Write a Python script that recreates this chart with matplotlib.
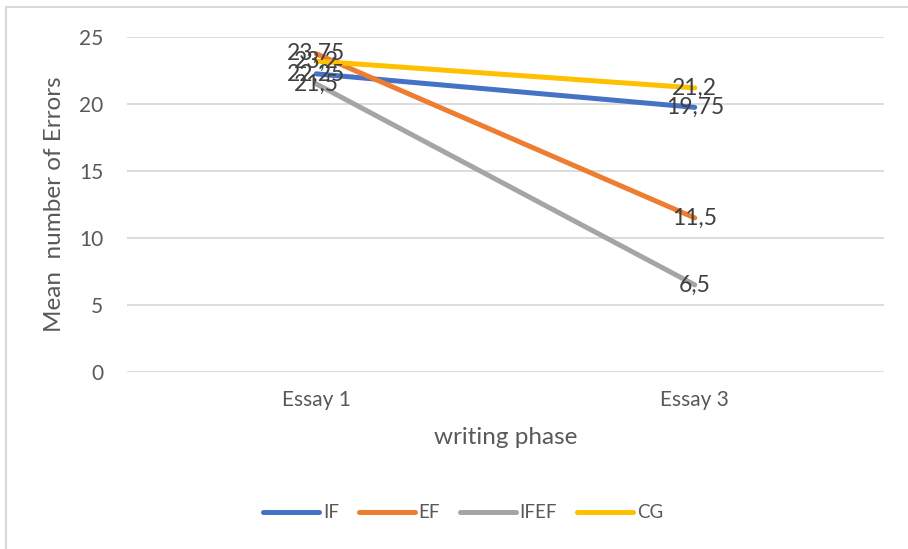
import matplotlib
matplotlib.use('Agg')
import matplotlib.pyplot as plt
from matplotlib.patches import Rectangle

# データ
phases = ['Essay 1', 'Essay 3']
if_vals = [22.25, 19.75]
ef_vals = [23.75, 11.5]
ifef_vals = [21.5, 6.5]
cg_vals = [23.2, 21.2]
series_names = ['IF', 'EF', 'IFEF', 'CG']
colors = ['#4472C4', '#ED7D31', '#A5A5A5', '#FFC000']

plt.rcParams['font.family'] = ['Lato', 'DejaVu Sans']

fig = plt.figure(figsize=(9.08, 5.49), dpi=100)
ax = fig.add_axes([127 / 908, 177 / 549, 757 / 908, 335 / 549])

x = list(range(len(phases)))
for vals, name, c in zip([if_vals, ef_vals, ifef_vals, cg_vals], series_names, colors):
    ax.plot(x, vals, color=c, lw=3.6, solid_capstyle='round', label=name)

# データラベル
for vals in [if_vals, ef_vals, ifef_vals, cg_vals]:
    for xi, v in zip(x, vals):
        ax.text(xi, v, f'{v:g}'.replace('.', ','), ha='center', va='center',
                fontsize=16.5, color='#404040')

ax.set_xlim(-0.5, 1.5)
ax.set_ylim(0, 25)
ax.set_yticks([0, 5, 10, 15, 20, 25])
ax.set_xticks(x)
ax.set_xticklabels(phases)
ax.tick_params(axis='y', length=0, pad=17, labelsize=15, labelcolor='#595959')
ax.tick_params(axis='x', length=0, pad=13, labelsize=15, labelcolor='#595959')
ax.grid(axis='y', color='#D9D9D9', lw=1.3)
ax.set_axisbelow(True)
for s in ax.spines.values():
    s.set_visible(False)

ax.set_ylabel('Mean  number of Errors', fontsize=17.5, color='#595959', labelpad=10)
ax.set_xlabel('writing phase', fontsize=17.5, color='#595959', labelpad=12)

fig.legend(loc='center', bbox_to_anchor=(463 / 908, 1 - 513 / 549), ncol=4,
           frameon=False, fontsize=13.5, handlelength=3.0, handletextpad=0.2,
           columnspacing=1.05, labelcolor='#595959')

# 枠線
fig.patches.append(Rectangle((6 / 908, -0.05), 1.1, 1 - 7 / 549 + 0.05,
                             transform=fig.transFigure, fill=False,
                             edgecolor='#D9D9D9', lw=1.5))

fig.savefig('out.png', dpi=100)
